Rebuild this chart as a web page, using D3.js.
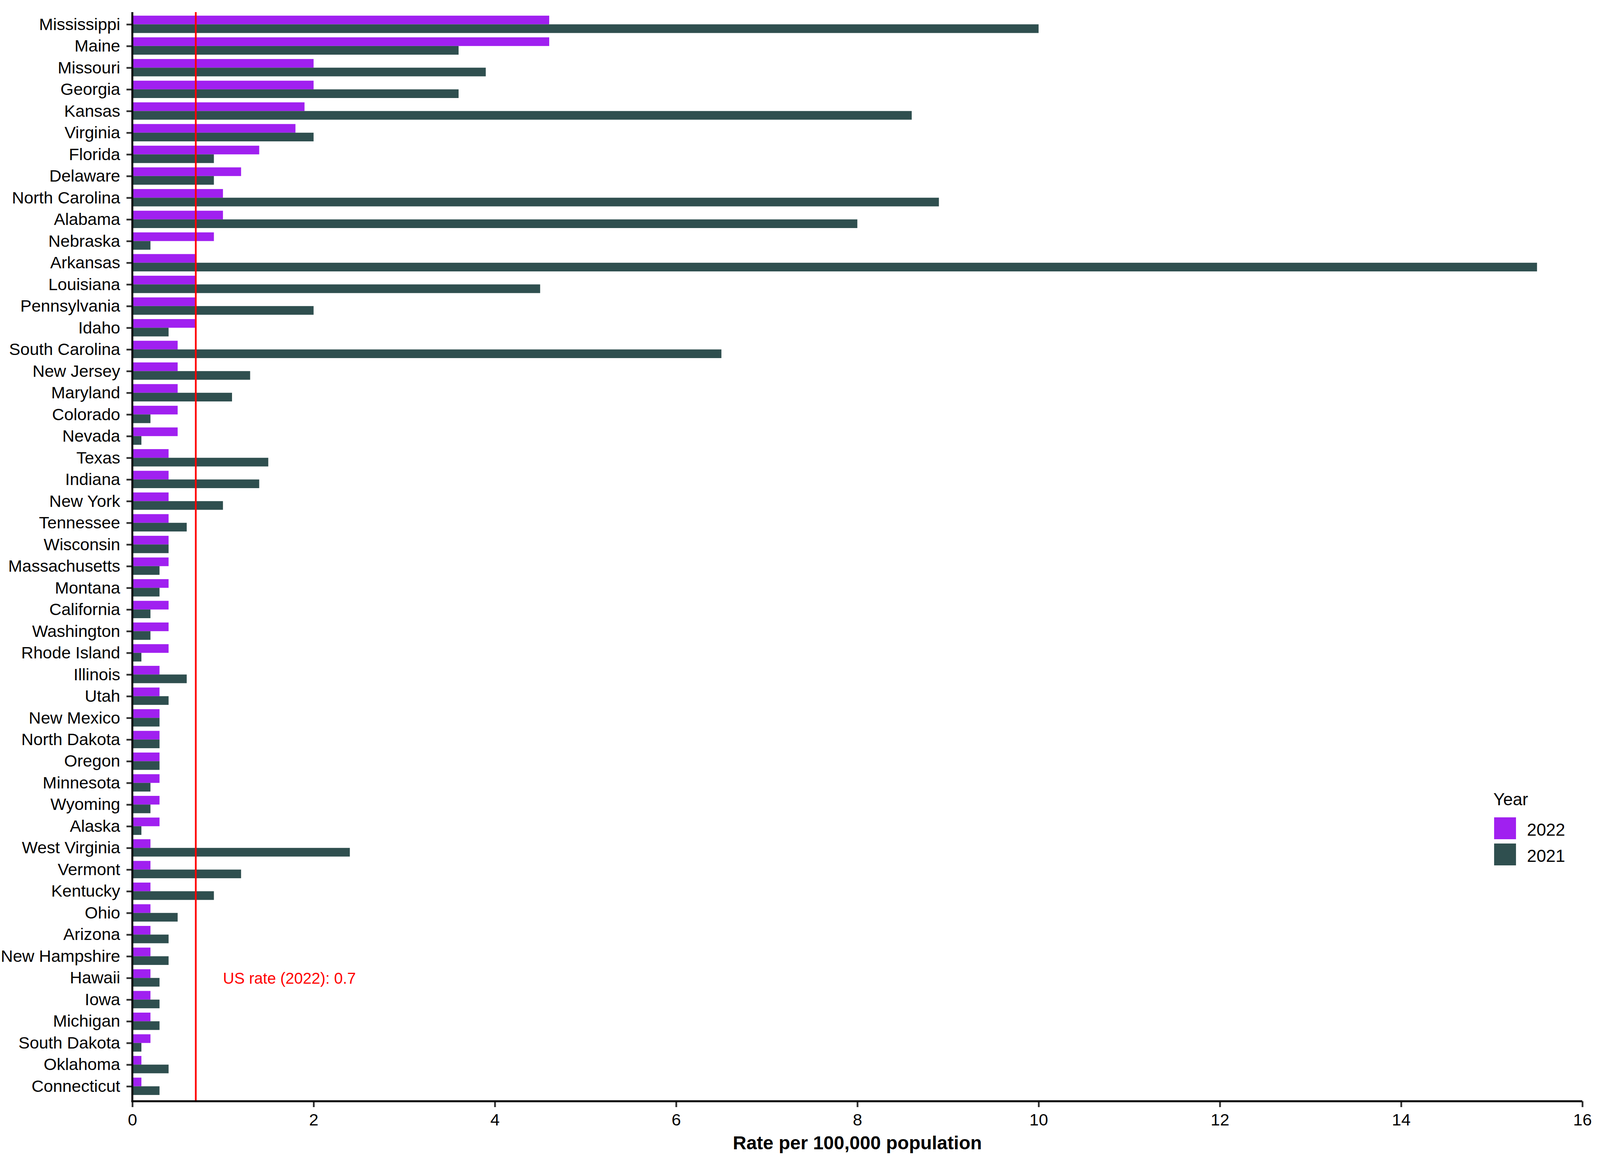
<!DOCTYPE html>
<html>
<head>
<meta charset="utf-8">
<script src="https://cdn.jsdelivr.net/npm/d3@7"></script>
<style>
  html, body { margin: 0; padding: 0; background: #fff; overflow: hidden; }
  svg { display: block; }
  text { font-family: "Liberation Sans", Arial, sans-serif; }
</style>
</head>
<body>
<script>
// states, in the order shown (top to bottom)
const states = [
    'Mississippi', 'Maine', 'Missouri', 'Georgia', 'Kansas', 'Virginia', 'Florida', 'Delaware',
    'North Carolina', 'Alabama', 'Nebraska', 'Arkansas', 'Louisiana', 'Pennsylvania', 'Idaho',
    'South Carolina', 'New Jersey', 'Maryland', 'Colorado', 'Nevada', 'Texas', 'Indiana',
    'New York', 'Tennessee', 'Wisconsin', 'Massachusetts', 'Montana', 'California', 'Washington',
    'Rhode Island', 'Illinois', 'Utah', 'New Mexico', 'North Dakota', 'Oregon', 'Minnesota',
    'Wyoming', 'Alaska', 'West Virginia', 'Vermont', 'Kentucky', 'Ohio', 'Arizona',
    'New Hampshire', 'Hawaii', 'Iowa', 'Michigan', 'South Dakota', 'Oklahoma', 'Connecticut'
]

const rate2022 = [
    4.6, 4.6, 2.0, 2.0, 1.9, 1.8, 1.4, 1.2,
    1.0, 1.0, 0.9, 0.7, 0.7, 0.7, 0.7,
    0.5, 0.5, 0.5, 0.5, 0.5, 0.4, 0.4,
    0.4, 0.4, 0.4, 0.4, 0.4, 0.4, 0.4,
    0.4, 0.3, 0.3, 0.3, 0.3, 0.3, 0.3,
    0.3, 0.3, 0.2, 0.2, 0.2, 0.2, 0.2,
    0.2, 0.2, 0.2, 0.2, 0.2, 0.1, 0.1
]

const rate2021 = [
    10.0, 3.6, 3.9, 3.6, 8.6, 2.0, 0.9, 0.9,
    8.9, 8.0, 0.2, 15.5, 4.5, 2.0, 0.4,
    6.5, 1.3, 1.1, 0.2, 0.1, 1.5, 1.4,
    1.0, 0.6, 0.4, 0.3, 0.3, 0.2, 0.2,
    0.1, 0.6, 0.4, 0.3, 0.3, 0.3, 0.2,
    0.2, 0.1, 2.4, 1.2, 0.9, 0.5, 0.4,
    0.4, 0.3, 0.3, 0.3, 0.1, 0.4, 0.3
]

const years = ['2022', '2021']
const xTicks = [0, 2, 4, 6, 8, 10, 12, 14, 16]
const usRate = 0.7
const usLabel = 'US rate (2022): 0.7'

const colors = { '2022': '#A020F0', '2021': '#2F4F4F' }

// layout is measured on a 4800 x 2973 picture, then fitted to the real window
const width = window.innerWidth || 4800
const height = window.innerHeight || 2973
const sx = width / 4800
const sy = height / 2973
const fs = sy
const X = v => v * sx
const Y = v => v * sy
const F = v => v * fs

// one row per state + year
const rows = []
states.forEach((s, i) => {
    rows.push({ state: s, year: '2022', value: rate2022[i] })
    rows.push({ state: s, year: '2021', value: rate2021[i] })
})

const x = d3.scaleLinear().domain([0, 16]).range([X(397), X(4747)])
const y = d3.scalePoint().domain(states).range([Y(29), Y(2815)]).padding(0.6)
const groupH = y.step() * 0.8
const inner = d3.scaleBand().domain(years).range([-groupH / 2, groupH / 2])

const svg = d3.select('body').append('svg')
    .attr('width', width)
    .attr('height', height)

// les barres
svg.append('g')
    .selectAll('rect')
    .data(rows)
    .enter()
    .append('rect')
    .attr('x', x(0))
    .attr('y', d => y(d.state) + inner(d.year))
    .attr('width', d => x(d.value) - x(0))
    .attr('height', inner.bandwidth())
    .attr('fill', d => colors[d.year])

// US reference line
svg.append('line')
    .attr('x1', x(usRate))
    .attr('x2', x(usRate))
    .attr('y1', Y(31))
    .attr('y2', Y(2820))
    .attr('stroke', 'red')
    .attr('stroke-width', F(4.5))

svg.append('text')
    .attr('x', x(1.0))
    .attr('y', y('Hawaii'))
    .attr('dy', '0.36em')
    .attr('fill', 'red')
    .attr('font-size', F(40))
    .text(usLabel)

// axes
const yAxis = svg.append('g')
    .attr('transform', `translate(${x(0)},0)`)
    .call(d3.axisLeft(y).tickSize(F(15)).tickPadding(F(16)).tickSizeOuter(0))
yAxis.select('.domain').remove()
yAxis.append('line')
    .attr('x1', 0).attr('x2', 0)
    .attr('y1', Y(31)).attr('y2', Y(2822))
    .attr('stroke', 'black')
    .attr('stroke-width', F(5))

const xAxis = svg.append('g')
    .attr('transform', `translate(0,${Y(2820)})`)
    .call(d3.axisBottom(x).tickValues(xTicks).tickFormat(d3.format('d')).tickSize(F(15)).tickPadding(F(16)).tickSizeOuter(0))
xAxis.select('.domain').remove()
xAxis.append('line')
    .attr('x1', x(0) - F(2.5)).attr('x2', x(16))
    .attr('y1', 0).attr('y2', 0)
    .attr('stroke', 'black')
    .attr('stroke-width', F(5))

svg.selectAll('.tick line')
    .attr('stroke', '#333')
    .attr('stroke-width', F(4.5))
svg.selectAll('.tick text')
    .attr('font-size', F(43))
    .attr('font-family', '"Liberation Sans", Arial, sans-serif')
    .attr('fill', 'black')

svg.append('text')
    .attr('x', (x(0) + x(16)) / 2)
    .attr('y', Y(2943))
    .attr('text-anchor', 'middle')
    .attr('font-size', F(48))
    .attr('font-weight', 'bold')
    .text('Rate per 100,000 population')

// la légende
const legend = svg.append('g')
    .attr('transform', `translate(${X(4480)},${Y(2062)})`)

legend.append('text')
    .attr('x', 0)
    .attr('y', 0)
    .attr('font-size', F(44))
    .text('Year')

const KEY = F(56)
legend.selectAll('rect')
    .data(years)
    .enter()
    .append('rect')
    .attr('x', F(2))
    .attr('y', (d, i) => F(31) + i * F(67))
    .attr('width', KEY)
    .attr('height', KEY)
    .attr('fill', d => colors[d])

legend.selectAll('text.key')
    .data(years)
    .enter()
    .append('text')
    .attr('class', 'key')
    .attr('x', F(86))
    .attr('y', (d, i) => F(78) + i * F(67))
    .attr('font-size', F(44))
    .text(d => d)
</script>
</body>
</html>
